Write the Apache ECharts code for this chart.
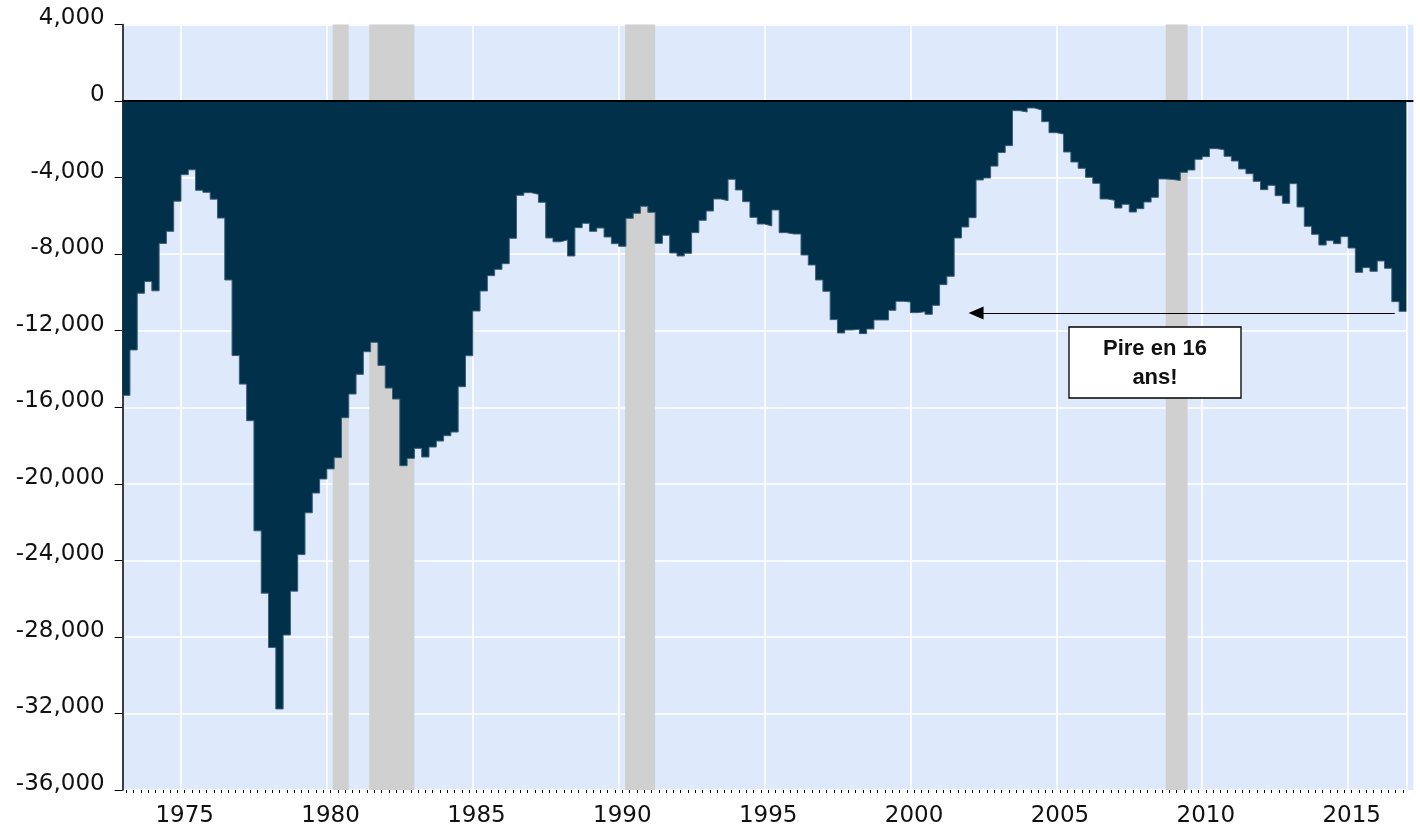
<!DOCTYPE html>
<html>
<head>
<meta charset="utf-8">
<script src="https://cdn.jsdelivr.net/npm/echarts@6/dist/echarts.min.js"></script>
<style>
  html, body { margin: 0; padding: 0; background: #ffffff; }
  #chart { width: 1420px; height: 830px; }
</style>
</head>
<body>
<div id="chart"></div>
<script>
// Quarterly series, 1973Q1 .. 2016Q4
const START_YEAR = 1973;
const values = [
  -15378, -13004, -10042, -9433, -9916, -7437, -6807, -5231,
  -3845, -3592, -4664, -4769, -5126, -6113, -9349, -13298,
  -14790, -16702, -22458, -25714, -28550, -31765, -27899, -25609,
  -23697, -21513, -20483, -19748, -19223, -18630, -16545, -15309,
  -14281, -13097, -12610, -13812, -14996, -15571, -19054, -18670,
  -18148, -18600, -18078, -17765, -17486, -17295, -14926, -13306,
  -10970, -9924, -9123, -8792, -8496, -7172, -4926, -4786,
  -4873, -5291, -7155, -7355, -7259, -8095, -6615, -6389,
  -6807, -6633, -7103, -7451, -7591, -6128, -5866, -5500,
  -5814, -7434, -7016, -7939, -8095, -7956, -6876, -6232,
  -5744, -5117, -5204, -4089, -4647, -5257, -6076, -6424,
  -6528, -5692, -6876, -6946, -6946, -8043, -8565, -9349,
  -9941, -11421, -12118, -11961, -11926, -12153, -11909, -11439,
  -11439, -10934, -10464, -10499, -11056, -11004, -11143, -10673,
  -9593, -9158, -7155, -6580, -6093, -4125, -4020, -3400,
  -2690, -2330, -502, -572, -363, -467, -1077, -1652,
  -1722, -2662, -3184, -3515, -3985, -4299, -5117, -5187,
  -5588, -5396, -5797, -5623, -5274, -5030, -4070, -4100,
  -4150, -3724, -3602, -3045, -2905, -2487, -2540, -2888,
  -3132, -3550, -3794, -4195, -4630, -4404, -4944, -5344,
  -4317, -5536, -6546, -6964, -7522, -7295, -7451, -7086,
  -7678, -8949, -8705, -8897, -8357, -8740, -10482, -10987
];

// Years that carry a label on the time axis
const labelYears = [1975, 1980, 1985, 1990, 1995, 2000, 2005, 2010, 2015];

// Recession periods (shaded), in fractional years
const recessionStarts = [1980.2, 1981.45, 1990.22, 2008.75];
const recessionEnds   = [1980.75, 1983.0, 1991.25, 2009.5];

// Value axis range and step
const Y_MIN = -36000, Y_MAX = 4000, Y_STEP = 4000;

// Annotation
const noteText = 'Pire en 16\nans!';
const arrowFromYear = 2016.6, arrowToYear = 2002.25, arrowLevel = -11080;

const AXIS_FONT = '"DejaVu Sans", Verdana, sans-serif';
const NOTE_FONT = '"Liberation Sans", Arial, Helvetica, sans-serif';
const BG = '#DEEAFB';
const DARK = '#00304A';

const quarters = values.map((v, i) => (START_YEAR + Math.floor(i / 4)) + 'Q' + (i % 4 + 1));
const yearOf = i => START_YEAR + Math.floor(i / 4);
const endYear = START_YEAR + values.length / 4;

// Step data: each quarter's value holds from its start to the next quarter
const stepData = values.map((v, i) => [START_YEAR + i / 4, v]);
stepData.push([endYear, values[values.length - 1]]);

const chart = echarts.init(document.getElementById('chart'), null, { renderer: 'canvas' });

const GRID = { left: 122.65, right: 13.6, top: 24.5, bottom: 40 };

const option = {
  animation: false,
  backgroundColor: '#ffffff',
  grid: Object.assign({ show: true, backgroundColor: BG, borderWidth: 0 }, GRID),
  xAxis: [
    {
      type: 'category', data: quarters, position: 'bottom', boundaryGap: true,
      axisLine: { show: true, lineStyle: { color: '#000', width: 1.5 } },
      axisTick: {
        show: true, alignWithLabel: true, length: 6,
        interval: (i) => i % 4 === 0,
        lineStyle: { color: '#000', width: 1 }
      },
      axisLabel: {
        show: true, margin: 15, fontSize: 23, fontFamily: AXIS_FONT, color: '#111',
        interval: (i) => i % 4 === 0 && labelYears.includes(yearOf(i)),
        formatter: (v) => v.slice(0, 4)
      },
      splitLine: { show: false }
    },
    {
      type: 'category', data: quarters, position: 'bottom', boundaryGap: true,
      axisLine: { show: false },
      axisTick: {
        show: true, alignWithLabel: true, length: 3, interval: 0,
        lineStyle: { color: '#000', width: 1 }
      },
      axisLabel: { show: false },
      splitLine: {
        show: true,
        interval: (i) => i % 4 === 0 && labelYears.includes(yearOf(i)),
        lineStyle: { color: '#ffffff', width: 1.6 }
      }
    },
    {
      type: 'value', min: START_YEAR, max: endYear, show: false
    }
  ],
  yAxis: {
    type: 'value', min: Y_MIN, max: Y_MAX, interval: Y_STEP,
    axisLine: { show: true, lineStyle: { color: '#000', width: 1.5 } },
    axisTick: { show: true, length: 8, lineStyle: { color: '#000', width: 1 } },
    axisLabel: {
      margin: 18, fontSize: 23, fontFamily: AXIS_FONT, color: '#111',
      verticalAlign: 'bottom', lineHeight: 12,
      formatter: (v) => v.toLocaleString('en-US')
    },
    splitLine: { show: true, lineStyle: { color: '#ffffff', width: 1.6 } }
  },
  series: [
    {
      name: 'recessions', type: 'line', xAxisIndex: 2, data: [], silent: true, z: 1,
      markArea: {
        silent: true,
        itemStyle: { color: '#D0D0D0', opacity: 1 },
        data: recessionStarts.map((s, i) => [{ xAxis: s }, { xAxis: recessionEnds[i] }])
      }
    },
    {
      name: 'valeurs', type: 'line', xAxisIndex: 2, data: stepData, step: 'end',
      symbol: 'none', z: 3, silent: true,
      lineStyle: { color: '#3B5E76', width: 1 },
      areaStyle: { color: DARK, opacity: 1 },
      markLine: {
        silent: true, symbol: 'none', animation: false,
        label: { show: false },
        data: [
          { yAxis: 0, lineStyle: { color: '#000', width: 2, type: 'solid' } },
          [
            { coord: [arrowFromYear, arrowLevel], symbol: 'none',
              lineStyle: { color: '#000', width: 1.2, type: 'solid' } },
            { coord: [arrowToYear, arrowLevel], symbol: 'triangle', symbolSize: [13, 15] }
          ]
        ]
      }
    }
  ],
  graphic: [
    {
      id: 'noteBox', type: 'rect', z: 100,
      shape: { x: 1069, y: 327, width: 172, height: 71 },
      style: { fill: '#ffffff', stroke: '#000000', lineWidth: 1.3 }
    },
    {
      id: 'noteText', type: 'text', z: 101,
      style: {
        text: noteText, x: 1155, y: 363, align: 'center', verticalAlign: 'middle',
        font: 'bold 22px ' + NOTE_FONT, lineHeight: 29, fill: '#111'
      }
    }
  ]
};

chart.setOption(option);

// Background strip and zero line continue a few pixels past the last quarter
const xEnd = chart.convertToPixel({ xAxisIndex: 2 }, endYear);
const yZero = chart.convertToPixel({ yAxisIndex: 0 }, 0);
const yTop = chart.convertToPixel({ yAxisIndex: 0 }, Y_MAX);
const yBottom = chart.convertToPixel({ yAxisIndex: 0 }, Y_MIN);
chart.setOption({
  graphic: [
    {
      id: 'bgStrip', type: 'rect', z: 0, silent: true,
      shape: { x: xEnd, y: yTop, width: 7, height: yBottom - yTop },
      style: { fill: BG }
    },
    {
      id: 'zeroExt', type: 'line', z: 5, silent: true,
      shape: { x1: xEnd, y1: yZero, x2: xEnd + 7, y2: yZero },
      style: { stroke: '#000', lineWidth: 2 }
    }
  ]
});
</script>
</body>
</html>
